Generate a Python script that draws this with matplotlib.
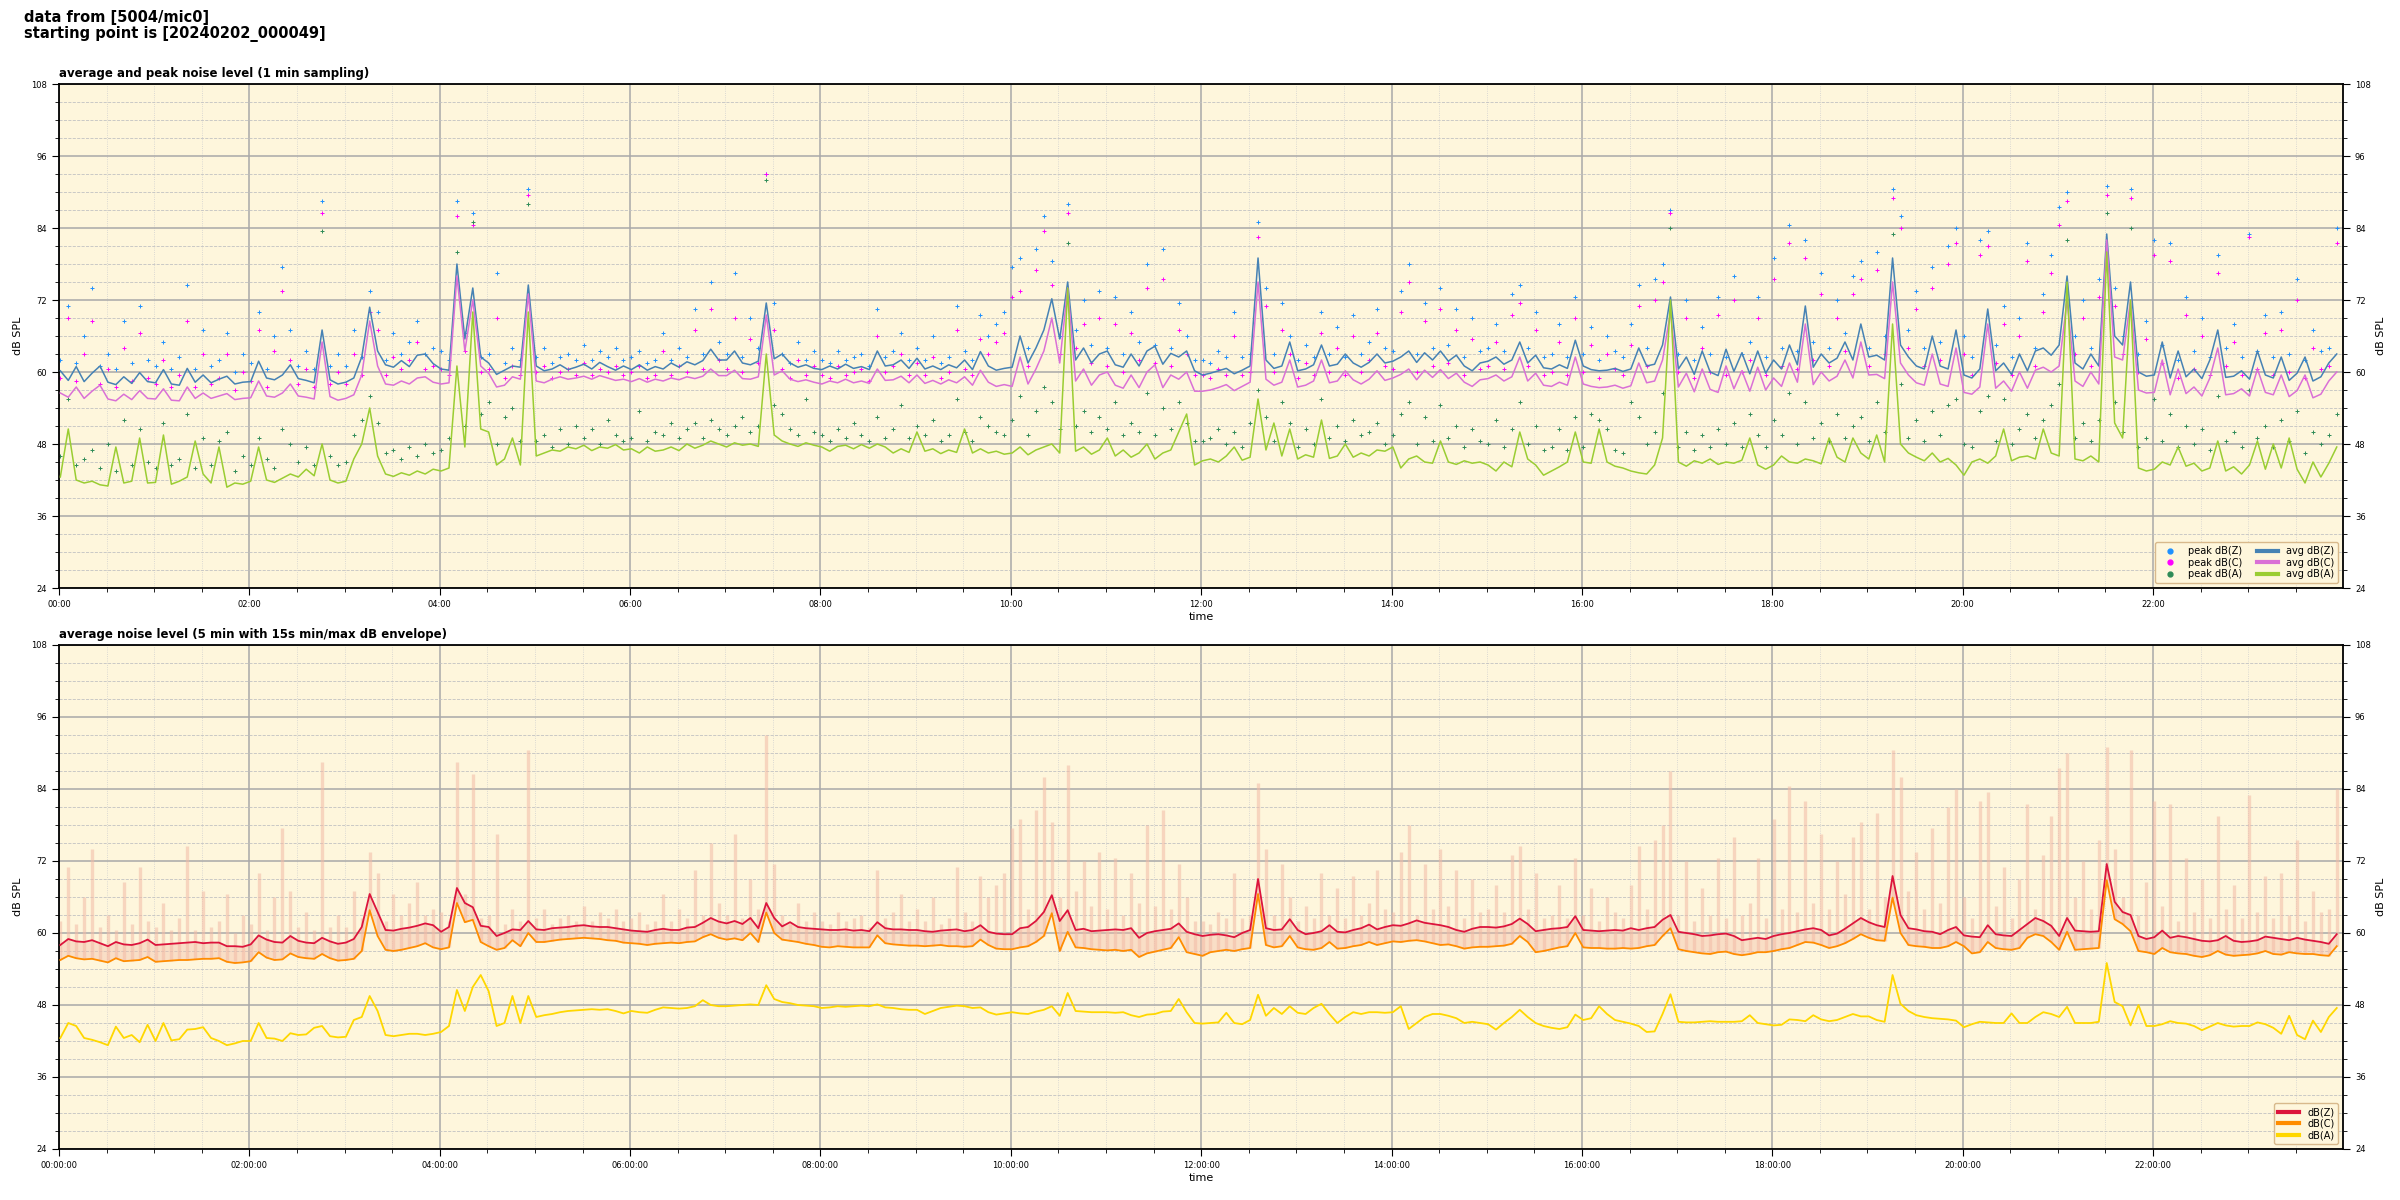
import numpy as np
import pandas as pd
import matplotlib
matplotlib.use("Agg")
import matplotlib.pyplot as plt
import matplotlib.dates as mdates
from matplotlib.lines import Line2D
from matplotlib.ticker import MultipleLocator

# ---------------- data (5-minute resolution) ----------------
start_time = "2024-02-02 00:00:49"
source_name = "5004/mic0"
start_label = "20240202_000049"

avg_z = [
    60.2, 58.6, 60.9, 58.4, 59.8, 61.0, 58.3, 57.9, 59.2, 58.1, 59.9, 58.4,
    58.2, 60.4, 58.0, 57.8, 60.6, 58.3, 59.5, 58.2, 58.8, 59.3, 58.0, 58.3,
    58.4, 61.8, 59.0, 58.7, 59.5, 61.2, 58.9, 58.6, 58.2, 67.0, 58.7, 58.0,
    58.3, 59.0, 62.5, 70.8, 63.5, 61.2, 60.8, 61.9, 60.9, 62.8, 63.0, 61.4,
    60.5, 60.3, 78.0, 65.5, 74.0, 62.5, 61.5, 59.6, 60.3, 61.0, 60.8, 74.5,
    61.0, 60.2, 60.5, 61.2, 60.4, 60.8, 61.3, 60.5, 61.6, 60.9, 60.3, 61.0,
    60.4, 61.2, 60.3, 60.9, 60.5, 61.5, 60.8, 61.7, 61.2, 61.9, 63.8, 62.0,
    62.0, 63.5, 61.5, 61.2, 61.8, 71.5, 62.2, 63.0, 61.5, 60.8, 61.2, 60.6,
    60.4, 61.0, 60.5, 61.3, 60.6, 60.9, 60.4, 63.5, 61.0, 61.2, 62.0, 60.6,
    62.3, 60.5, 61.0, 60.4, 61.2, 60.7, 62.0, 60.4, 63.4, 61.0, 60.3, 60.6,
    60.8, 66.0, 61.5, 64.0, 67.0, 72.2, 65.5, 75.0, 62.0, 64.0, 61.5, 63.0,
    63.5, 61.2, 60.8, 63.0, 61.0, 63.5, 64.3, 61.3, 63.1, 62.5, 63.5, 60.2,
    59.5, 59.8, 60.2, 60.6, 59.7, 60.3, 61.0, 79.0, 62.0, 60.6, 61.0, 65.0,
    60.2, 60.5, 61.2, 64.5, 61.0, 61.3, 63.0, 61.5, 60.8, 61.6, 63.0, 61.5,
    61.8, 62.5, 63.5, 61.6, 63.2, 62.0, 63.5, 61.8, 62.8, 61.0, 60.2, 61.5,
    61.8, 62.5, 61.3, 62.0, 65.0, 61.5, 62.8, 60.7, 60.5, 61.2, 60.6, 65.3,
    61.0, 60.4, 60.2, 60.3, 60.6, 60.1, 60.5, 64.0, 61.0, 61.3, 64.5, 72.5,
    60.5, 62.5, 59.6, 63.5, 60.0, 59.4, 63.8, 60.1, 63.2, 59.7, 63.5, 59.8,
    62.0, 60.5, 64.5, 61.2, 71.0, 60.8, 63.0, 61.5, 62.3, 65.0, 62.0, 68.0,
    62.5, 62.8, 62.0, 79.0, 64.5, 62.5, 61.0, 60.5, 66.0, 61.0, 60.5, 67.0,
    59.5, 59.0, 60.5, 70.5, 60.2, 61.5, 59.6, 63.0, 60.2, 63.5, 64.0, 62.8,
    64.5, 76.0, 61.5, 60.5, 63.0, 61.0, 83.0, 66.0, 64.5, 75.0, 60.0, 59.3,
    59.5, 65.0, 59.0, 63.5, 59.2, 60.5, 58.9, 62.0, 67.0, 59.1, 59.3, 60.2,
    58.8, 63.5, 59.5, 59.0, 62.5, 58.6, 59.8, 62.5, 58.5, 59.2, 61.5, 63.0,
]

avg_c = [
    56.5, 55.8, 57.5, 55.6, 56.8, 57.8, 55.5, 55.2, 56.3, 55.4, 56.9, 55.6,
    55.5, 57.2, 55.3, 55.2, 57.5, 55.6, 56.5, 55.6, 56.0, 56.4, 55.4, 55.6,
    55.7, 58.5, 56.0, 55.8, 56.5, 58.0, 56.0, 55.8, 55.5, 65.0, 55.9, 55.3,
    55.6, 56.2, 59.5, 68.5, 61.0, 58.0, 57.8, 58.5, 58.0, 59.0, 59.2, 58.3,
    58.0, 58.2, 76.0, 63.5, 72.0, 61.0, 59.8, 57.5, 57.8, 59.2, 58.8, 73.0,
    58.5, 58.2, 58.8, 59.2, 58.8, 59.0, 59.3, 58.8, 59.4, 59.0, 58.6, 58.8,
    58.4, 58.9, 58.3, 58.8, 58.5, 59.0, 58.7, 59.2, 58.9, 59.3, 60.5, 59.4,
    59.4, 60.3, 58.9, 58.8, 59.2, 69.5, 59.5, 60.2, 58.8, 58.4, 58.7, 58.3,
    58.0, 58.5, 58.2, 58.8, 58.2, 58.5, 58.1, 60.5, 58.6, 58.7, 59.3, 58.2,
    59.5, 58.1, 58.6, 58.0, 58.7, 58.2, 59.2, 57.8, 60.3, 58.3, 57.6, 57.9,
    57.6, 62.5, 58.0, 60.5, 63.5, 69.0, 61.5, 74.0, 58.5, 60.5, 57.8, 59.5,
    60.0, 57.8, 57.3, 59.5, 57.4, 60.0, 61.2, 57.4, 59.5, 58.8, 60.0, 56.8,
    56.8, 57.0, 57.4, 57.9, 56.9, 57.6, 58.3, 75.0, 58.8, 57.8, 58.3, 62.0,
    57.5, 57.8, 58.5, 62.0, 58.2, 58.5, 60.2, 58.7, 58.0, 58.8, 60.2, 58.6,
    59.0, 59.6, 60.5, 58.7, 60.3, 59.1, 60.4, 58.9, 59.8, 58.3, 57.6, 58.7,
    58.9, 59.5, 58.5, 59.2, 62.5, 58.5, 59.8, 57.8, 57.6, 58.3, 57.8, 62.5,
    58.0, 57.6, 57.4, 57.5, 57.8, 57.3, 57.7, 61.5, 58.2, 58.5, 62.0, 70.0,
    57.5, 59.8, 56.7, 60.5, 57.1, 56.6, 61.0, 57.2, 60.2, 56.8, 60.8, 57.0,
    59.0, 57.6, 61.5, 58.3, 68.0, 57.9, 60.0, 58.5, 59.3, 62.0, 59.0, 65.0,
    59.5, 59.6, 58.9, 75.0, 61.5, 59.5, 58.2, 57.8, 63.0, 58.0, 57.6, 64.0,
    56.6, 56.3, 57.5, 68.0, 57.3, 58.5, 56.8, 60.0, 57.3, 60.3, 60.8, 60.0,
    61.0, 72.0, 58.5, 57.6, 60.0, 58.0, 82.0, 62.5, 62.0, 72.0, 57.0, 56.5,
    56.6, 62.0, 56.2, 60.5, 56.4, 57.5, 56.0, 59.0, 64.0, 56.2, 56.4, 57.2,
    56.0, 60.5, 56.6, 56.2, 59.5, 55.9, 56.9, 59.5, 55.7, 56.3, 58.5, 60.0,
]

avg_a = [
    42.5, 50.5, 42.0, 41.5, 41.8, 41.2, 41.0, 47.5, 41.5, 41.8, 49.0, 41.5,
    41.6, 49.5, 41.3, 41.8, 42.5, 48.5, 43.0, 41.5, 47.5, 40.8, 41.5, 41.3,
    41.8, 47.5, 42.0, 41.6, 42.3, 43.0, 42.5, 43.8, 42.7, 48.0, 42.0, 41.5,
    41.8, 45.5, 48.0, 54.0, 46.0, 43.0, 42.6, 43.2, 42.8, 43.5, 43.0, 43.8,
    43.5, 44.0, 61.0, 47.5, 70.0, 50.5, 50.0, 44.5, 45.5, 49.0, 44.5, 70.0,
    46.0, 46.5, 47.0, 46.8, 47.5, 47.2, 47.8, 46.9, 47.5, 47.3, 47.9, 47.0,
    47.2, 46.5, 47.5, 46.8, 47.0, 47.5, 46.9, 48.0, 47.3, 47.8, 48.5, 48.0,
    47.5, 48.2, 47.8, 48.0, 47.6, 63.0, 49.5, 48.5, 48.0, 47.6, 48.2, 47.8,
    47.5, 46.8, 47.6, 47.8, 47.2, 47.9, 47.3, 48.0, 47.5, 46.5, 47.2, 46.6,
    50.0, 46.8, 47.2, 46.4, 47.0, 46.6, 50.5, 46.5, 47.2, 46.5, 46.8, 46.3,
    46.5, 47.5, 46.2, 47.0, 47.5, 48.0, 46.5, 74.0, 46.8, 47.5, 46.3, 47.0,
    49.0, 46.0, 47.0, 45.8, 46.5, 48.0, 45.5, 46.5, 47.0, 50.0, 53.0, 44.5,
    45.2, 45.5, 45.0, 46.0, 47.5, 45.3, 45.8, 55.5, 47.0, 51.5, 46.0, 50.5,
    45.5, 46.2, 45.8, 52.0, 45.6, 46.0, 48.0, 45.8, 46.5, 46.0, 47.0, 46.8,
    47.5, 44.0, 45.5, 46.0, 45.0, 44.8, 48.5, 45.0, 44.6, 45.2, 44.8, 45.0,
    44.5, 43.5, 45.0, 44.2, 50.0, 45.5, 44.5, 42.8, 43.5, 44.2, 45.0, 50.0,
    45.0, 44.8, 50.5, 45.0, 44.3, 44.0, 43.5, 43.2, 43.0, 44.5, 49.0, 72.0,
    45.0, 44.3, 45.2, 44.8, 45.5, 44.6, 45.0, 44.8, 45.3, 49.0, 44.5, 43.8,
    44.5, 46.0, 45.0, 44.8, 45.5, 45.2, 44.7, 49.0, 45.8, 45.0, 49.0, 46.5,
    45.5, 49.5, 45.0, 68.0, 48.0, 46.5, 45.8, 45.2, 46.5, 45.0, 45.6, 44.5,
    42.8, 45.0, 45.5, 44.8, 46.0, 50.5, 45.2, 45.8, 46.0, 45.5, 50.5, 46.5,
    46.0, 75.0, 45.5, 45.2, 46.0, 45.0, 80.0, 51.5, 49.0, 72.0, 44.0, 43.5,
    43.8, 45.0, 44.5, 47.5, 44.3, 44.8, 43.5, 44.0, 48.5, 43.5, 44.2, 43.0,
    44.5, 48.5, 43.8, 48.0, 44.0, 49.0, 43.8, 41.5, 45.0, 42.5, 44.8, 47.5,
]

peak_z = [
    62.0, 71.0, 61.5, 66.0, 74.0, 61.0, 63.0, 60.5, 68.5, 61.5, 71.0, 62.0,
    61.0, 65.0, 60.5, 62.5, 74.5, 60.5, 67.0, 61.0, 62.0, 66.5, 60.0, 63.0,
    61.5, 70.0, 60.5, 66.0, 77.5, 67.0, 61.0, 63.5, 60.5, 88.5, 61.0, 63.0,
    61.0, 67.0, 62.5, 73.5, 70.0, 62.0, 66.5, 63.0, 65.0, 68.5, 63.0, 64.0,
    63.5, 62.0, 88.5, 66.5, 86.5, 62.5, 63.0, 76.5, 61.5, 64.0, 62.0, 90.5,
    62.5, 64.0, 61.5, 62.5, 63.0, 62.0, 64.5, 62.0, 63.5, 62.5, 64.0, 62.0,
    62.5, 63.5, 61.5, 62.0, 66.5, 62.0, 64.0, 62.5, 70.5, 63.0, 75.0, 65.0,
    63.0, 76.5, 62.5, 69.0, 64.0, 93.0, 71.5, 63.0, 61.5, 65.0, 62.0, 63.5,
    62.0, 61.5, 63.5, 62.0, 62.5, 63.0, 61.0, 70.5, 62.5, 63.5, 66.5, 62.0,
    64.0, 62.0, 66.0, 61.5, 62.5, 71.0, 63.5, 62.0, 69.5, 66.0, 68.0, 70.0,
    77.5, 79.0, 64.0, 80.5, 86.0, 78.5, 66.0, 88.0, 67.0, 72.0, 64.5, 73.5,
    64.0, 72.5, 63.0, 70.0, 65.0, 78.0, 64.5, 80.5, 64.0, 71.5, 66.0, 62.0,
    62.0, 61.5, 63.5, 62.5, 70.0, 62.5, 63.0, 85.0, 74.0, 63.0, 71.5, 66.0,
    62.0, 64.5, 62.5, 70.0, 63.0, 67.5, 62.5, 69.5, 63.0, 65.0, 70.5, 64.0,
    63.5, 73.5, 78.0, 63.0, 71.5, 64.0, 74.0, 64.5, 70.5, 62.5, 69.0, 63.5,
    64.0, 68.0, 63.5, 73.0, 74.5, 64.0, 70.0, 62.5, 63.0, 68.0, 62.5, 72.5,
    63.0, 67.5, 62.0, 66.0, 63.5, 62.5, 68.0, 74.5, 64.0, 75.5, 78.0, 87.0,
    63.0, 72.0, 62.0, 67.5, 63.0, 72.5, 62.5, 76.0, 63.0, 65.0, 72.5, 62.5,
    79.0, 64.0, 84.5, 63.5, 82.0, 65.0, 76.5, 64.0, 72.0, 66.5, 76.0, 78.5,
    64.0, 80.0, 66.0, 90.5, 86.0, 67.0, 73.5, 64.0, 77.5, 65.0, 81.0, 84.0,
    66.0, 62.5, 82.0, 83.5, 64.5, 71.0, 62.5, 69.0, 81.5, 64.0, 73.0, 79.5,
    87.5, 90.0, 66.0, 72.0, 64.0, 75.5, 91.0, 74.0, 66.0, 90.5, 63.0, 68.5,
    82.0, 64.5, 81.5, 62.0, 72.5, 63.5, 69.0, 62.5, 79.5, 64.0, 68.0, 62.5,
    83.0, 63.5, 69.5, 62.5, 70.0, 63.0, 75.5, 62.0, 67.0, 63.5, 64.0, 84.0,
]

peak_c = [
    59.0, 69.0, 58.5, 63.0, 68.5, 58.0, 60.5, 57.5, 64.0, 58.5, 66.5, 59.0,
    58.0, 62.0, 57.5, 59.5, 68.5, 57.5, 63.0, 58.0, 59.0, 63.0, 57.0, 60.0,
    58.5, 67.0, 57.5, 63.5, 73.5, 62.0, 58.0, 60.5, 57.5, 86.5, 58.0, 60.0,
    58.0, 63.0, 59.5, 70.0, 67.0, 59.5, 62.5, 60.5, 62.0, 65.0, 60.5, 61.0,
    60.5, 59.5, 86.0, 63.5, 84.5, 60.0, 60.5, 69.0, 59.0, 61.0, 59.5, 89.5,
    60.0, 61.0, 59.0, 60.0, 60.5, 59.5, 61.5, 59.5, 60.5, 60.0, 61.0, 59.5,
    60.0, 61.0, 59.0, 59.5, 63.5, 59.5, 61.0, 60.0, 67.0, 60.5, 70.5, 62.0,
    60.5, 69.0, 60.0, 65.5, 61.5, 93.0, 67.0, 60.5, 59.0, 62.0, 59.5, 61.0,
    59.5, 59.0, 61.0, 59.5, 60.0, 60.5, 58.5, 66.0, 60.0, 61.0, 63.0, 59.5,
    61.5, 59.5, 62.5, 59.0, 60.0, 67.0, 60.5, 59.5, 65.5, 63.0, 65.0, 66.5,
    72.5, 73.5, 61.0, 77.0, 83.5, 74.5, 63.0, 86.5, 64.0, 68.0, 61.5, 69.0,
    61.0, 68.0, 60.0, 66.5, 62.0, 74.0, 61.5, 75.5, 61.0, 67.0, 63.0, 59.5,
    59.5, 59.0, 60.5, 59.5, 66.0, 59.5, 60.0, 82.5, 71.0, 60.0, 67.0, 63.0,
    59.0, 61.5, 59.5, 66.5, 60.0, 64.0, 59.5, 66.0, 60.0, 62.0, 66.5, 61.0,
    60.5, 70.0, 75.0, 60.0, 68.5, 61.0, 70.5, 61.5, 67.0, 59.5, 65.5, 60.5,
    61.0, 65.0, 60.5, 69.5, 71.5, 61.0, 67.0, 59.5, 60.0, 65.0, 59.5, 69.0,
    60.0, 64.5, 59.0, 63.0, 60.5, 59.5, 64.5, 71.0, 61.0, 72.0, 75.0, 86.5,
    60.0, 69.0, 59.0, 64.0, 60.0, 69.5, 59.5, 72.0, 60.0, 62.0, 69.0, 59.5,
    75.5, 61.0, 81.5, 60.5, 79.0, 62.0, 73.0, 61.0, 69.0, 63.5, 73.0, 75.5,
    61.0, 77.0, 63.0, 89.0, 84.0, 64.0, 70.5, 61.0, 74.0, 62.0, 78.0, 81.5,
    63.0, 59.5, 79.5, 81.0, 61.5, 68.0, 59.5, 66.0, 78.5, 61.0, 70.0, 76.5,
    84.5, 88.5, 63.0, 69.0, 61.0, 72.5, 89.5, 71.0, 63.0, 89.0, 60.0, 65.5,
    79.5, 61.5, 78.5, 59.0, 69.5, 60.5, 66.0, 59.5, 76.5, 61.0, 65.0, 59.5,
    82.5, 60.5, 66.5, 59.5, 67.0, 60.0, 72.0, 59.0, 64.0, 60.5, 61.0, 81.5,
]

peak_a = [
    46.0, 55.5, 44.5, 45.5, 47.0, 44.0, 48.0, 43.5, 52.0, 44.5, 50.5, 45.0,
    44.0, 51.5, 44.5, 45.5, 53.0, 44.0, 49.0, 44.5, 48.5, 50.0, 43.5, 46.0,
    44.5, 49.0, 45.5, 44.0, 50.5, 48.0, 45.0, 47.5, 44.5, 83.5, 46.0, 44.5,
    45.0, 49.5, 52.0, 56.0, 51.5, 46.5, 47.0, 45.5, 47.5, 46.0, 48.0, 46.5,
    47.0, 49.0, 80.0, 51.0, 85.0, 53.0, 55.0, 48.0, 52.5, 54.0, 48.5, 88.0,
    48.5, 49.5, 47.5, 50.5, 48.0, 51.0, 49.0, 50.5, 48.0, 52.0, 49.5, 48.5,
    49.0, 53.5, 48.5, 50.0, 49.5, 51.5, 49.0, 50.5, 51.5, 49.0, 52.0, 50.5,
    49.5, 51.0, 52.5, 50.0, 51.0, 92.0, 54.5, 53.0, 50.5, 49.5, 55.5, 50.0,
    49.5, 48.5, 50.5, 49.0, 51.5, 49.5, 48.5, 52.5, 49.0, 50.5, 54.5, 49.0,
    51.0, 49.5, 52.0, 48.5, 49.5, 55.5, 50.0, 48.5, 52.5, 51.0, 50.0, 49.5,
    52.0, 56.0, 49.5, 53.5, 57.5, 55.0, 50.5, 81.5, 51.0, 53.5, 50.0, 52.5,
    50.5, 55.0, 49.5, 51.5, 50.0, 56.5, 49.5, 54.0, 50.5, 55.0, 51.5, 48.5,
    48.5, 49.0, 50.5, 48.0, 50.0, 47.5, 51.5, 57.0, 52.5, 48.5, 55.0, 51.5,
    47.5, 50.5, 48.0, 55.5, 49.0, 51.0, 48.5, 52.0, 49.5, 50.0, 51.5, 48.0,
    49.5, 53.0, 55.0, 48.0, 52.5, 48.5, 54.5, 49.0, 51.0, 47.5, 50.5, 48.5,
    48.0, 52.0, 47.5, 50.5, 55.0, 48.0, 51.0, 47.0, 47.5, 50.5, 47.0, 52.5,
    47.5, 53.0, 52.0, 50.5, 47.0, 46.5, 55.0, 52.5, 48.0, 50.0, 56.5, 84.0,
    47.5, 50.0, 47.0, 49.5, 47.5, 50.5, 48.0, 51.5, 47.5, 53.0, 49.5, 47.5,
    52.0, 49.5, 56.5, 48.0, 55.0, 49.0, 51.5, 48.5, 53.0, 49.0, 51.0, 52.5,
    48.5, 55.0, 50.0, 83.0, 58.0, 49.0, 52.0, 48.5, 53.5, 49.5, 54.5, 55.5,
    48.0, 47.5, 53.5, 56.0, 48.5, 55.5, 48.0, 50.5, 53.0, 49.0, 52.0, 54.5,
    58.0, 82.0, 49.0, 51.5, 48.5, 52.0, 86.5, 55.0, 50.0, 84.0, 47.5, 49.0,
    55.5, 48.5, 53.0, 47.5, 51.0, 48.0, 50.5, 47.0, 56.0, 48.5, 50.0, 47.5,
    57.0, 49.0, 51.0, 47.5, 52.0, 48.5, 53.5, 46.5, 50.0, 48.0, 49.5, 53.0,
]

# bottom panel: 5-min averages
lvl_z = [
    58.0, 59.0, 58.6, 58.5, 58.8, 58.3, 57.8, 58.5, 58.1, 58.0, 58.3, 58.9,
    58.0, 58.1, 58.2, 58.3, 58.4, 58.5, 58.3, 58.4, 58.4, 57.8, 57.8, 57.7,
    58.1, 59.6, 58.9, 58.5, 58.4, 59.5, 58.7, 58.4, 58.3, 59.2, 58.6, 58.2,
    58.4, 59.0, 61.0, 66.5, 63.5, 60.5, 60.4, 60.7, 60.9, 61.2, 61.6, 61.3,
    60.2, 61.0, 67.5, 65.0, 64.3, 61.2, 61.0, 59.5, 60.0, 60.6, 60.5, 62.0,
    60.6, 60.5, 60.8, 60.9, 61.0, 61.2, 61.3, 61.1, 61.0, 61.0, 60.8, 60.6,
    60.4, 60.3, 60.2, 60.5, 60.7, 60.5, 60.5, 60.9, 61.0, 61.7, 62.5, 61.9,
    61.6, 62.0, 61.5, 62.5, 60.8, 65.0, 62.5, 61.1, 61.8, 61.0, 60.8, 60.7,
    60.6, 60.5, 60.5, 60.6, 60.4, 60.5, 60.3, 61.8, 60.8, 60.6, 60.6, 60.5,
    60.5, 60.3, 60.2, 60.4, 60.5, 60.6, 60.3, 60.5, 61.3, 60.2, 59.9, 59.8,
    59.8, 60.8, 61.0, 62.0, 63.5, 66.3, 62.0, 63.8, 60.5, 60.7, 60.3, 60.4,
    60.5, 60.6, 60.5, 60.8, 59.2, 60.0, 60.3, 60.5, 60.7, 61.6, 60.2, 59.8,
    59.5, 59.7, 59.8, 59.6, 59.3, 60.0, 60.5, 69.0, 60.8, 60.5, 60.6, 62.3,
    60.5, 59.8, 60.0, 60.3, 61.3, 60.2, 60.1, 60.5, 60.8, 61.4, 60.6, 61.0,
    61.3, 61.2, 61.6, 62.1, 61.7, 61.5, 61.3, 61.0, 60.5, 60.2, 60.7, 61.0,
    61.0, 60.9, 61.1, 61.5, 62.4, 61.5, 60.3, 60.5, 60.7, 60.8, 61.0, 62.8,
    60.5, 60.4, 60.3, 60.4, 60.5, 60.4, 60.8, 60.5, 60.8, 61.0, 62.2, 63.0,
    60.2, 60.0, 59.8, 59.5, 59.6, 59.8, 59.9, 59.5, 58.8, 59.0, 59.2, 59.0,
    59.5, 59.8, 60.0, 60.3, 60.6, 60.8, 60.5, 59.6, 59.9, 60.7, 61.6, 62.5,
    61.8, 61.3, 61.0, 69.5, 63.0, 60.8, 60.6, 60.3, 60.2, 59.8, 60.5, 61.0,
    59.6, 59.4, 59.3, 61.3, 59.8, 59.6, 59.5, 60.5, 61.5, 62.5, 62.0, 61.2,
    59.5, 62.5, 60.4, 60.3, 60.2, 60.3, 71.5, 65.2, 63.5, 63.0, 59.5, 59.0,
    59.3, 60.4, 59.2, 59.5, 59.3, 59.0, 58.7, 58.6, 58.8, 59.5, 58.7, 58.5,
    58.6, 58.8, 59.4, 59.2, 59.0, 58.8, 59.2, 58.9, 58.7, 58.5, 58.2, 59.8,
]

lvl_c = [
    55.5, 56.2, 55.8, 55.6, 55.7, 55.4, 55.1, 55.8, 55.3, 55.4, 55.5, 56.0,
    55.2, 55.3, 55.4, 55.5, 55.5, 55.6, 55.7, 55.7, 55.8, 55.2, 55.0, 55.1,
    55.3, 56.8, 55.9, 55.5, 55.6, 56.6, 56.0, 55.8, 55.7, 56.5, 55.8, 55.4,
    55.5, 55.7, 57.0, 63.8, 59.5, 57.2, 57.0, 57.2, 57.5, 57.8, 58.3, 57.6,
    57.3, 57.6, 65.0, 61.8, 62.2, 58.5, 57.8, 57.2, 57.5, 58.8, 57.8, 60.0,
    58.5, 58.5, 58.7, 58.9, 59.0, 59.1, 59.2, 59.1, 59.0, 58.8, 58.7, 58.4,
    58.3, 58.2, 58.0, 58.2, 58.3, 58.4, 58.3, 58.5, 58.6, 59.3, 59.8, 59.2,
    58.9, 59.1, 58.8, 60.0, 58.5, 63.4, 60.0, 58.9, 58.7, 58.5, 58.2, 58.0,
    57.7, 57.6, 57.8, 57.7, 57.6, 57.6, 57.6, 59.6, 58.3, 58.1, 58.0, 57.9,
    57.9, 57.8, 57.9, 58.0, 57.8, 57.8, 57.7, 57.8, 58.9, 58.0, 57.4, 57.3,
    57.3, 57.6, 57.8, 58.5, 59.5, 63.3, 57.0, 60.2, 57.6, 57.5, 57.3, 57.2,
    57.1, 57.2, 57.0, 57.2, 56.0, 56.6, 56.9, 57.2, 57.5, 59.3, 56.8, 56.5,
    56.2, 56.8, 57.0, 57.2, 57.0, 57.3, 57.5, 66.5, 58.0, 57.6, 57.8, 59.5,
    57.6, 57.3, 57.2, 57.5, 58.5, 57.4, 57.5, 57.8, 58.0, 58.5, 58.0, 58.3,
    58.6, 58.5, 58.7, 58.8, 58.6, 58.3, 58.0, 58.1, 57.8, 57.4, 57.6, 57.7,
    57.7, 57.8, 57.9, 58.2, 59.5, 58.5, 56.8, 57.0, 57.3, 57.6, 57.8, 60.0,
    57.6, 57.5, 57.5, 57.4, 57.4, 57.5, 57.4, 57.5, 57.8, 58.0, 59.5, 60.8,
    57.3, 57.0, 56.8, 56.6, 56.5, 56.8, 56.9, 56.5, 56.3, 56.5, 56.8, 56.8,
    57.0, 57.3, 57.5, 58.0, 58.5, 58.4, 58.0, 57.5, 57.8, 58.3, 59.0, 59.8,
    59.2, 58.8, 58.7, 65.9, 60.0, 58.0, 57.8, 57.7, 57.5, 57.5, 57.8, 58.5,
    57.8, 56.6, 56.8, 58.5, 57.5, 57.3, 57.2, 57.5, 59.2, 59.8, 59.5, 58.5,
    57.2, 60.2, 57.2, 57.3, 57.4, 57.5, 68.8, 62.3, 61.5, 60.3, 57.0, 56.8,
    56.5, 57.5, 56.8, 56.6, 56.5, 56.2, 56.0, 56.3, 57.0, 56.4, 56.2, 56.3,
    56.4, 56.6, 57.0, 56.5, 56.4, 56.8, 56.6, 56.5, 56.5, 56.3, 56.2, 57.8,
]

lvl_a = [
    42.5, 45.0, 44.5, 42.5, 42.2, 41.8, 41.3, 44.4, 42.5, 43.0, 41.8, 44.7,
    42.0, 45.0, 42.1, 42.3, 43.9, 44.0, 44.3, 42.5, 42.0, 41.3, 41.6, 42.0,
    42.0, 45.0, 42.5, 42.4, 42.0, 43.3, 43.0, 43.1, 44.2, 44.5, 42.8, 42.6,
    42.7, 45.5, 46.0, 49.5, 47.0, 43.0, 42.8, 43.0, 43.2, 43.2, 43.0, 43.2,
    43.5, 44.5, 50.5, 47.0, 51.0, 53.0, 50.3, 44.5, 45.0, 49.5, 45.0, 49.5,
    46.0, 46.3, 46.5, 46.8, 47.0, 47.1, 47.2, 47.3, 47.2, 47.3, 47.0, 46.6,
    47.0, 46.8, 46.7, 47.2, 47.6, 47.5, 47.4, 47.5, 47.8, 48.8, 48.0, 47.8,
    47.8, 47.9, 48.0, 48.1, 48.0, 51.3, 49.0, 48.5, 48.3, 48.0, 47.9, 47.8,
    47.5, 47.6, 47.8, 47.7, 47.8, 47.9, 47.8, 48.1, 47.6, 47.5, 47.3, 47.2,
    47.2, 46.5, 47.0, 47.5, 47.7, 47.9, 47.8, 47.5, 47.6, 46.8, 46.4, 46.6,
    46.8, 46.6, 46.5, 46.9, 47.2, 47.8, 46.2, 50.0, 47.0, 46.9, 46.8, 46.8,
    46.8, 46.7, 46.8, 46.3, 46.0, 46.4, 46.5, 46.9, 47.0, 49.0, 46.8, 45.0,
    44.9, 45.0, 45.1, 46.7, 45.0, 44.8, 45.5, 49.7, 46.2, 47.5, 46.5, 47.8,
    46.7, 46.5, 47.5, 48.2, 46.5, 45.0, 46.0, 46.8, 46.5, 46.8, 46.8, 46.7,
    46.8, 47.8, 44.0, 45.0, 46.0, 46.5, 46.5, 46.2, 45.8, 45.0, 45.2, 45.0,
    44.8, 43.9, 45.0, 46.0, 47.2, 46.0, 45.0, 44.5, 44.2, 44.0, 44.3, 46.4,
    45.5, 45.8, 47.8, 46.5, 45.5, 45.2, 44.9, 44.5, 43.5, 43.6, 46.5, 49.8,
    45.2, 45.1, 45.1, 45.2, 45.3, 45.2, 45.2, 45.2, 45.3, 46.3, 45.0, 44.8,
    44.6, 44.7, 45.6, 45.5, 45.3, 46.3, 45.6, 45.3, 45.5, 46.0, 46.5, 46.1,
    46.1, 45.5, 45.2, 53.0, 48.2, 47.0, 46.3, 46.0, 45.8, 45.7, 45.6, 45.4,
    44.3, 44.8, 45.2, 45.1, 45.0, 45.0, 46.6, 45.0, 45.0, 46.0, 46.8, 46.5,
    46.0, 47.7, 45.0, 45.0, 45.0, 45.2, 55.0, 48.5, 47.8, 44.6, 48.0, 44.5,
    44.5, 44.8, 45.3, 45.0, 44.9, 44.5, 43.8, 44.4, 45.0, 44.6, 44.4, 44.5,
    44.5, 45.1, 44.8, 44.2, 43.2, 46.2, 43.0, 42.3, 45.4, 43.5, 46.0, 47.5,
]

# 15 s min/max envelope: lower edge follows the dB(C) level, upper edge the dB(Z) peaks
env_lo = lvl_c
env_hi = peak_z

# ---------------- styling ----------------
BG = "#FEF6DC"
ENV = "#F3BBA6"
plt.rcParams["font.family"] = ["DejaVu Sans"]

t = pd.date_range(start_time, periods=len(avg_z), freq="5min")
x0 = pd.Timestamp("2024-02-02 00:00:00")
x1 = pd.Timestamp("2024-02-02 23:59:50")

fig = plt.figure(figsize=(24, 12), dpi=100)
fig.text(0.010, 0.992, f"data from [{source_name}]\nstarting point is [{start_label}]",
         ha="left", va="top", fontsize=10.5, fontweight="bold", linespacing=1.1)

ax1 = fig.add_axes([0.0246, 0.51, 0.9517, 0.42])
ax2 = fig.add_axes([0.0246, 0.0425, 0.9517, 0.42])


def style(ax, fmt, title):
    ax.set_facecolor(BG)
    ax.set_axisbelow(True)
    ax.set_xlim(x0, x1)
    ax.set_ylim(24, 108)
    ax.yaxis.set_major_locator(MultipleLocator(12))
    ax.yaxis.set_minor_locator(MultipleLocator(3))
    ax.xaxis.set_major_locator(mdates.HourLocator(byhour=range(0, 24, 2)))
    ax.xaxis.set_minor_locator(mdates.MinuteLocator(byminute=[0, 30]))
    ax.xaxis.set_major_formatter(mdates.DateFormatter(fmt))
    ax.grid(which="major", color="#a9a9a9", lw=1.1)
    ax.grid(which="minor", axis="y", color="#c2c2c2", ls="--", lw=0.6)
    ax.grid(which="minor", axis="x", color="#cfcfcf", ls=":", lw=0.6)
    ax.tick_params(which="major", labelsize=6, length=5)
    ax.tick_params(which="minor", length=3)
    ax.tick_params(axis="y", which="both", right=True, labelright=True)
    for s in ax.spines.values():
        s.set_linewidth(1.3)
    ax.set_xlabel("time", fontsize=8, labelpad=2)
    ax.set_ylabel("dB SPL", fontsize=8, labelpad=6)
    ax.text(1.0165, 0.5, "dB SPL", transform=ax.transAxes, rotation=90,
            ha="center", va="center", fontsize=8)
    ax.set_title(title, loc="left", fontsize=8.5, fontweight="bold", pad=5)


style(ax1, "%H:%M", "average and peak noise level (1 min sampling)")
style(ax2, "%H:%M:%S", "average noise level (5 min with 15s min/max dB envelope)")

# ---- top panel ----
c_pz, c_pc, c_pa = "#1E90FF", "#FF00FF", "#2E8B57"
c_az, c_ac, c_aa = "#4682B4", "#DA70D6", "#9ACD32"
ax1.scatter(t, peak_z, marker="+", s=7, lw=0.7, color=c_pz, zorder=2)
ax1.scatter(t, peak_c, marker="+", s=7, lw=0.7, color=c_pc, zorder=2)
ax1.scatter(t, peak_a, marker="+", s=7, lw=0.7, color=c_pa, zorder=2)
ax1.plot(t, avg_z, color=c_az, lw=1.1, zorder=3)
ax1.plot(t, avg_c, color=c_ac, lw=1.1, zorder=3)
ax1.plot(t, avg_a, color=c_aa, lw=1.1, zorder=3)

handles1 = [
    Line2D([], [], ls="none", marker="o", ms=3.5, color=c_pz),
    Line2D([], [], ls="none", marker="o", ms=3.5, color=c_pc),
    Line2D([], [], ls="none", marker="o", ms=3.5, color=c_pa),
    Line2D([], [], lw=3, color=c_az),
    Line2D([], [], lw=3, color=c_ac),
    Line2D([], [], lw=3, color=c_aa),
]
labels1 = ["peak dB(Z)", "peak dB(C)", "peak dB(A)", "avg dB(Z)", "avg dB(C)", "avg dB(A)"]
ax1.legend(handles1, labels1, loc="lower right", ncol=2, fontsize=7,
           frameon=True, facecolor=BG, edgecolor="#D8B98C", framealpha=1,
           handlelength=2.2, columnspacing=1.5, borderpad=0.4, labelspacing=0.15)

# ---- bottom panel ----
c_z, c_c, c_a = "#DC143C", "#FF8C00", "#FFD700"
ax2.fill_between(t, env_lo, lvl_z, color=ENV, alpha=0.4, lw=0, zorder=1)
ax2.vlines(t, env_lo, env_hi, color=ENV, alpha=0.55, lw=2.4, zorder=1)
ax2.plot(t, lvl_z, color=c_z, lw=1.3, zorder=3)
ax2.plot(t, lvl_c, color=c_c, lw=1.3, zorder=3)
ax2.plot(t, lvl_a, color=c_a, lw=1.3, zorder=3)
handles2 = [Line2D([], [], lw=3, color=c) for c in (c_z, c_c, c_a)]
ax2.legend(handles2, ["dB(Z)", "dB(C)", "dB(A)"], loc="lower right", fontsize=7,
           frameon=True, facecolor=BG, edgecolor="#D8B98C", framealpha=1,
           handlelength=2.2, borderpad=0.4, labelspacing=0.15)

fig.savefig("out.png", dpi=100)
